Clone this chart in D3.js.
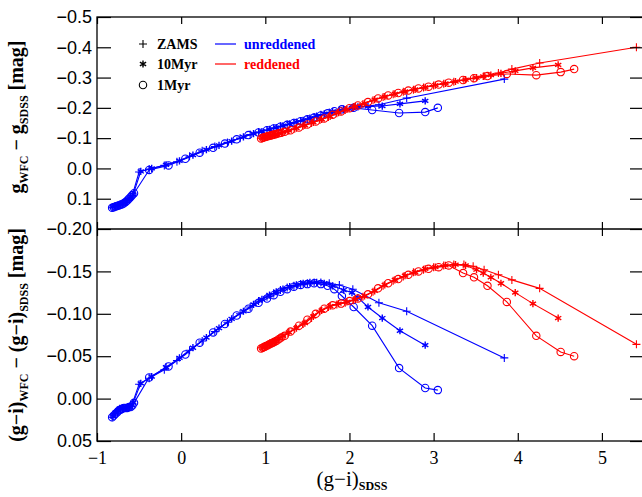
<!DOCTYPE html>
<html><head><meta charset="utf-8">
<script src="https://cdn.jsdelivr.net/npm/d3@7"></script>
<style>body{margin:0;background:#fff}svg{display:block}</style>
</head><body>
<svg id="c" width="642" height="497"></svg>
<script>
// ---- data ----
const xTicks = [-1, 0, 1, 2, 3, 4, 5];
const topTicks = [-0.5, -0.4, -0.3, -0.2, -0.1, 0.0, 0.1];
const botTicks = [-0.20, -0.15, -0.10, -0.05, 0.00, 0.05];

// unreddened (blue)
const bZamsGi  = [-0.82,-0.79,-0.76,-0.73,-0.70,-0.66,-0.62,-0.58,-0.50,-0.38,-0.20,-0.05,0.10,0.25,0.40,0.55,0.70,0.82,0.92,1.02,1.10,1.18,1.26,1.34,1.42,1.50,1.58,1.66,1.76,1.88,2.04,2.35,2.68,3.84];
const bZamsDg  = [0.128,0.126,0.123,0.120,0.116,0.110,0.100,0.088,0.012,0.002,-0.010,-0.022,-0.040,-0.058,-0.072,-0.086,-0.100,-0.112,-0.120,-0.127,-0.133,-0.139,-0.145,-0.151,-0.157,-0.163,-0.170,-0.177,-0.185,-0.193,-0.200,-0.210,-0.232,-0.295];
const bZamsDgi = [0.022,0.018,0.014,0.012,0.011,0.011,0.010,0.006,-0.017,-0.024,-0.034,-0.045,-0.057,-0.068,-0.079,-0.090,-0.100,-0.108,-0.115,-0.120,-0.124,-0.128,-0.131,-0.133,-0.135,-0.136,-0.137,-0.137,-0.136,-0.134,-0.129,-0.113,-0.103,-0.048];

const b10Gi  = [-0.81,-0.78,-0.75,-0.72,-0.69,-0.65,-0.61,-0.57,-0.48,-0.35,-0.18,-0.02,0.14,0.30,0.45,0.60,0.74,0.86,0.96,1.05,1.13,1.21,1.29,1.37,1.45,1.53,1.61,1.70,1.80,1.93,2.03,2.10,2.22,2.39,2.60,2.90];
const b10Dg  = [0.127,0.125,0.122,0.119,0.115,0.109,0.099,0.086,0.010,0.000,-0.012,-0.025,-0.044,-0.062,-0.076,-0.090,-0.104,-0.115,-0.122,-0.129,-0.135,-0.141,-0.147,-0.153,-0.159,-0.166,-0.173,-0.180,-0.188,-0.196,-0.200,-0.203,-0.205,-0.206,-0.213,-0.223];
const b10Dgi = [0.021,0.017,0.014,0.012,0.011,0.011,0.010,0.005,-0.018,-0.026,-0.037,-0.048,-0.060,-0.072,-0.083,-0.094,-0.103,-0.111,-0.117,-0.122,-0.126,-0.129,-0.132,-0.134,-0.136,-0.137,-0.137,-0.136,-0.133,-0.128,-0.125,-0.119,-0.108,-0.095,-0.080,-0.063];

const b1Gi  = [-0.82,-0.80,-0.78,-0.76,-0.74,-0.72,-0.70,-0.68,-0.66,-0.64,-0.62,-0.60,-0.58,-0.56,-0.38,-0.15,0.05,0.22,0.38,0.52,0.66,0.80,0.92,1.02,1.10,1.18,1.26,1.34,1.42,1.50,1.58,1.66,1.74,1.82,1.91,2.05,2.27,2.59,2.90,3.05];
const b1Dg  = [0.130,0.128,0.126,0.124,0.122,0.120,0.118,0.115,0.111,0.106,0.100,0.094,0.088,0.082,0.005,-0.010,-0.032,-0.052,-0.068,-0.082,-0.096,-0.110,-0.119,-0.126,-0.132,-0.138,-0.144,-0.150,-0.156,-0.162,-0.168,-0.175,-0.182,-0.189,-0.195,-0.200,-0.193,-0.183,-0.186,-0.200];
const b1Dgi = [0.022,0.020,0.018,0.016,0.014,0.013,0.012,0.011,0.011,0.011,0.010,0.010,0.008,0.005,-0.025,-0.038,-0.052,-0.066,-0.078,-0.088,-0.098,-0.106,-0.113,-0.118,-0.122,-0.126,-0.129,-0.132,-0.134,-0.135,-0.136,-0.135,-0.133,-0.129,-0.121,-0.108,-0.086,-0.036,-0.0125,-0.010];

// reddened (red)
const rZamsGi  = [0.96,0.99,1.02,1.05,1.08,1.11,1.15,1.20,1.27,1.35,1.45,1.55,1.65,1.75,1.85,1.95,2.05,2.16,2.28,2.40,2.52,2.64,2.76,2.88,3.00,3.12,3.24,3.36,3.47,3.60,3.77,3.93,4.26,5.41];
const rZamsDg  = [-0.100,-0.103,-0.106,-0.108,-0.110,-0.112,-0.115,-0.119,-0.124,-0.131,-0.141,-0.150,-0.160,-0.170,-0.182,-0.193,-0.203,-0.213,-0.225,-0.236,-0.245,-0.253,-0.260,-0.267,-0.274,-0.280,-0.286,-0.292,-0.298,-0.305,-0.315,-0.328,-0.348,-0.400];
const rZamsDgi = [-0.060,-0.062,-0.063,-0.065,-0.066,-0.068,-0.070,-0.073,-0.077,-0.082,-0.088,-0.095,-0.103,-0.108,-0.111,-0.113,-0.116,-0.120,-0.126,-0.133,-0.139,-0.144,-0.149,-0.152,-0.155,-0.157,-0.158,-0.158,-0.156,-0.152,-0.146,-0.140,-0.130,-0.064];

const r10Gi  = [0.97,1.00,1.03,1.06,1.09,1.12,1.16,1.21,1.28,1.37,1.47,1.57,1.67,1.77,1.87,1.97,2.07,2.18,2.30,2.42,2.54,2.66,2.78,2.90,3.02,3.14,3.26,3.38,3.51,3.59,3.68,3.80,3.97,4.18,4.48];
const r10Dg  = [-0.101,-0.104,-0.106,-0.109,-0.111,-0.113,-0.116,-0.120,-0.125,-0.133,-0.142,-0.152,-0.162,-0.172,-0.184,-0.195,-0.205,-0.215,-0.227,-0.237,-0.246,-0.254,-0.261,-0.268,-0.275,-0.281,-0.287,-0.293,-0.300,-0.304,-0.308,-0.314,-0.322,-0.332,-0.342];
const r10Dgi = [-0.060,-0.062,-0.064,-0.065,-0.067,-0.068,-0.071,-0.074,-0.078,-0.083,-0.089,-0.097,-0.104,-0.109,-0.112,-0.114,-0.117,-0.121,-0.127,-0.134,-0.140,-0.145,-0.149,-0.153,-0.155,-0.157,-0.158,-0.157,-0.152,-0.148,-0.143,-0.136,-0.125,-0.112,-0.095];

const r1Gi  = [0.95,0.97,0.99,1.01,1.03,1.05,1.07,1.09,1.11,1.13,1.16,1.19,1.23,1.30,1.40,1.50,1.60,1.70,1.80,1.90,2.00,2.10,2.22,2.34,2.46,2.58,2.70,2.82,2.94,3.06,3.18,3.35,3.48,3.64,3.87,4.22,4.51,4.67];
const r1Dg  = [-0.099,-0.101,-0.103,-0.105,-0.106,-0.108,-0.109,-0.111,-0.112,-0.114,-0.116,-0.118,-0.121,-0.126,-0.135,-0.145,-0.155,-0.165,-0.177,-0.188,-0.199,-0.208,-0.219,-0.231,-0.241,-0.249,-0.257,-0.264,-0.270,-0.277,-0.283,-0.292,-0.298,-0.305,-0.312,-0.308,-0.318,-0.328];
const r1Dgi = [-0.059,-0.060,-0.061,-0.062,-0.063,-0.064,-0.065,-0.066,-0.067,-0.068,-0.070,-0.072,-0.074,-0.079,-0.086,-0.093,-0.100,-0.106,-0.110,-0.112,-0.115,-0.118,-0.123,-0.130,-0.136,-0.141,-0.146,-0.150,-0.153,-0.155,-0.157,-0.148,-0.143,-0.133,-0.114,-0.074,-0.055,-0.050];

const series = [
  {color:"#0000ff", sym:"plus", gi:bZamsGi, dg:bZamsDg, dgi:bZamsDgi},
  {color:"#0000ff", sym:"star", gi:b10Gi, dg:b10Dg, dgi:b10Dgi},
  {color:"#0000ff", sym:"circ", gi:b1Gi, dg:b1Dg, dgi:b1Dgi},
  {color:"#ff0000", sym:"plus", gi:rZamsGi, dg:rZamsDg, dgi:rZamsDgi},
  {color:"#ff0000", sym:"star", gi:r10Gi, dg:r10Dg, dgi:r10Dgi},
  {color:"#ff0000", sym:"circ", gi:r1Gi, dg:r1Dg, dgi:r1Dgi}
];

// ---- layout ----
const L = 97, R = 644, T = 17, M = 229, B = 441;
const svg = d3.select("#c");
const x = d3.scaleLinear().domain([-1, 5.5]).range([L, R]);
const yTop = d3.scaleLinear().domain([-0.5, 0.2]).range([T, M]);
const yBot = d3.scaleLinear().domain([-0.20, 0.05]).range([M, B]);
const minus = s => s.replace("-", "\u2212");

const defs = svg.append("defs");
defs.append("clipPath").attr("id","clipT").append("rect").attr("x",L).attr("y",T).attr("width",R-L).attr("height",M-T);
defs.append("clipPath").attr("id","clipB").append("rect").attr("x",L).attr("y",M).attr("width",R-L).attr("height",B-M);

function marker(g, sym, px, py, color) {
  if (sym === "plus") {
    g.append("path").attr("d", `M${px-4},${py}H${px+4}M${px},${py-4}V${py+4}`)
      .attr("stroke", color).attr("stroke-width", 1.1).attr("fill","none");
  } else if (sym === "star") {
    const r = 3.6, c = Math.cos(Math.PI/6)*r, s = Math.sin(Math.PI/6)*r;
    g.append("path").attr("d", `M${px},${py-r}V${py+r}M${px-c},${py-s}L${px+c},${py+s}M${px-c},${py+s}L${px+c},${py-s}`)
      .attr("stroke", color).attr("stroke-width", 1.4).attr("fill","none");
  } else {
    g.append("circle").attr("cx", px).attr("cy", py).attr("r", 3.7)
      .attr("stroke", color).attr("stroke-width", 1.1).attr("fill","none");
  }
}

function panel(yScale, key, clip) {
  const g = svg.append("g").attr("clip-path", `url(#${clip})`);
  series.forEach(s => {
    const pts = s.gi.map((v,i) => [x(v), yScale(s[key][i])]);
    g.append("path").attr("d", d3.line()(pts)).attr("fill","none")
      .attr("stroke", s.color).attr("stroke-width", 1.1);
    const mg = g.append("g");
    pts.forEach(p => marker(mg, s.sym, p[0], p[1], s.color));
  });
}
panel(yTop, "dg", "clipT");
panel(yBot, "dgi", "clipB");

// ---- axes ----
const ax = svg.append("g").attr("stroke","#000").attr("stroke-width",1.3).attr("fill","none");
ax.append("rect").attr("x",L).attr("y",T).attr("width",R-L).attr("height",B-T);
ax.append("line").attr("x1",L).attr("x2",R).attr("y1",M).attr("y2",M);

function xAxis(gen, yPos, len) {
  const g = svg.append("g").attr("transform", `translate(0,${yPos})`)
    .call(gen(x).tickValues(xTicks).tickSize(len).tickFormat(""));
  g.select(".domain").remove();
  g.selectAll(".tick line").attr("stroke","#000").attr("stroke-width",1.2);
  return g;
}
xAxis(d3.axisTop, B, 8);
xAxis(d3.axisBottom, T, 7);
xAxis(d3.axisTop, M, 7);
xAxis(d3.axisBottom, M, 7);
const xl = svg.append("g").attr("transform", `translate(0,${B})`)
  .call(d3.axisBottom(x).tickValues(xTicks).tickSize(0).tickPadding(10).tickFormat(d => minus(String(d))));
xl.select(".domain").remove();
xl.selectAll("text").attr("font-family","Liberation Serif").attr("font-size",18).attr("fill","#000");

function yAxis(scale, ticks, fmt) {
  const gl = svg.append("g").attr("transform", `translate(${L},0)`)
    .call(d3.axisRight(scale).tickValues(ticks).tickSize(14).tickFormat(""));
  gl.select(".domain").remove();
  gl.selectAll(".tick line").attr("stroke","#000").attr("stroke-width",1.2);
  const gr = svg.append("g").attr("transform", `translate(${R},0)`)
    .call(d3.axisLeft(scale).tickValues(ticks).tickSize(14).tickFormat(""));
  gr.select(".domain").remove();
  gr.selectAll(".tick line").attr("stroke","#000").attr("stroke-width",1.2);
  const lab = svg.append("g").attr("transform", `translate(${L-3},0)`)
    .call(d3.axisLeft(scale).tickValues(ticks).tickSize(0).tickPadding(2).tickFormat(d => minus(d3.format(fmt)(d))));
  lab.select(".domain").remove();
  lab.selectAll("text").attr("font-family","Liberation Sans").attr("font-size",18).attr("fill","#000");
}
yAxis(yTop, topTicks, ".1f");
yAxis(yBot, botTicks, ".2f");

// ---- titles ----
const xt = svg.append("text").attr("x", 352).attr("y", 486).attr("text-anchor","middle")
  .attr("font-family","Liberation Serif").attr("font-size",21).attr("fill","#000");
xt.append("tspan").text("(g\u2212i)");
xt.append("tspan").attr("dy",4).attr("font-size",12).attr("font-weight","bold").text("SDSS");

function ytitle(cy, parts) {
  const t = svg.append("text").attr("transform", `translate(23,${cy}) rotate(-90)`).attr("text-anchor","middle")
    .attr("font-family","Liberation Serif").attr("font-weight","bold").attr("font-size",20).attr("fill","#000");
  parts.forEach(p => {
    const ts = t.append("tspan").text(p[0]);
    if (p[1]) ts.attr("font-size",12).attr("dy",5);
    if (p[2]) ts.attr("dy",-5);
  });
}
ytitle(117, [["g"],["WFC",1],[" \u2212 g",0,1],["SDSS",1],[" [mag]",0,1]]);
ytitle(335, [["(g\u2212i)"],["WFC",1],[" \u2212 (g\u2212i)",0,1],["SDSS",1],[" [mag]",0,1]]);

// ---- legend ----
const leg = svg.append("g");
const legSyms = [["plus","ZAMS",44],["star","10Myr",64],["circ","1Myr",85]];
legSyms.forEach(d => {
  marker(leg, d[0], 143, d[2], "#000");
  leg.append("text").attr("x",157).attr("y",d[2]+5).text(d[1])
    .attr("font-family","Liberation Serif").attr("font-weight","bold").attr("font-size",14).attr("fill","#000");
});
[["#0000ff","unreddened",44],["#ff0000","reddened",64]].forEach(d => {
  leg.append("line").attr("x1",215).attr("x2",236).attr("y1",d[2]).attr("y2",d[2]).attr("stroke",d[0]).attr("stroke-width",1.2);
  leg.append("text").attr("x",244).attr("y",d[2]+5).text(d[1])
    .attr("font-family","Liberation Serif").attr("font-weight","bold").attr("font-size",14).attr("fill",d[0]);
});
</script>
</body></html>
